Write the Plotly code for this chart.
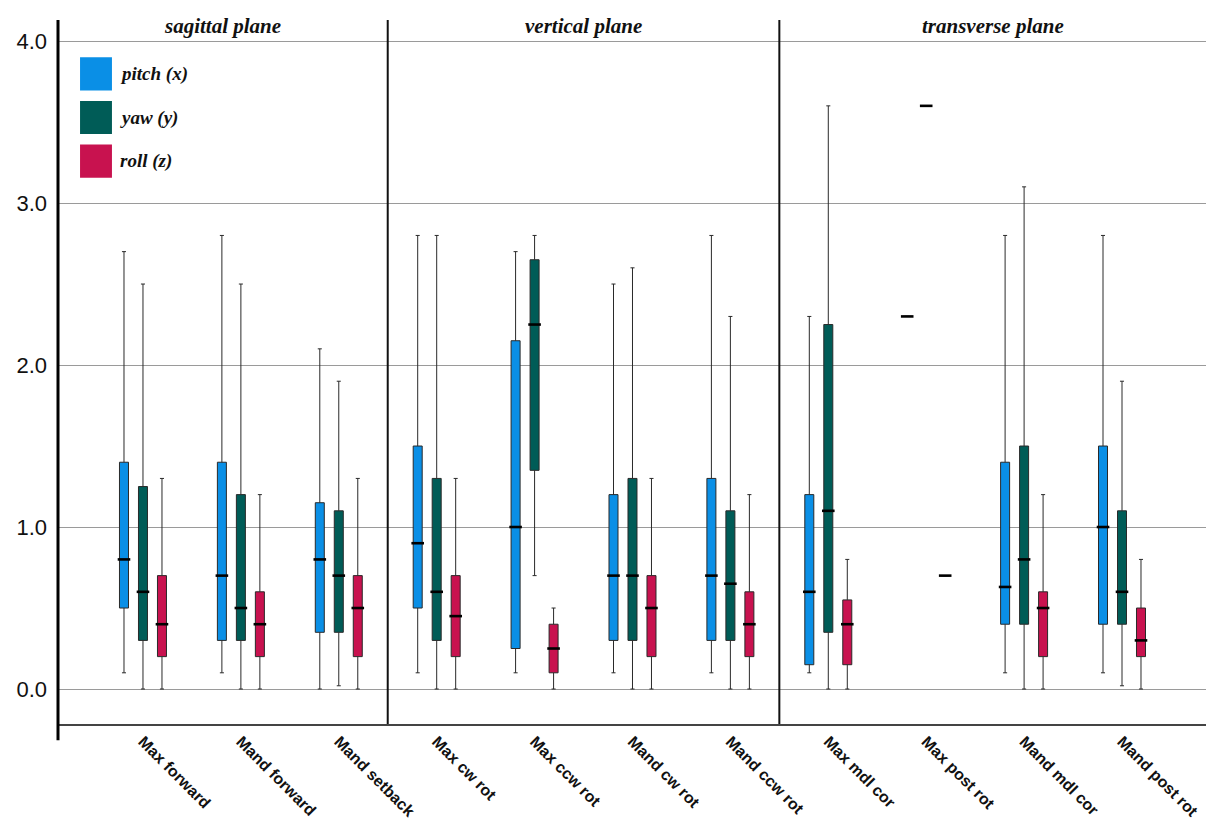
import plotly.graph_objects as go

# Categories (movement types) grouped into three anatomical planes
categories = ["Max forward", "Mand forward", "Mand setback",
              "Max cw rot", "Max ccw rot", "Mand cw rot", "Mand ccw rot",
              "Max mdl cor", "Max post rot", "Mand mdl cor", "Mand post rot"]
planes = ["sagittal plane", "vertical plane", "transverse plane"]
plane_spans = [(0, 2), (3, 6), (7, 10)]

# Box statistics per series: lower whisker, Q1, median, Q3, upper whisker
pitch_low = [0.10, 0.10, 0.00, 0.10, 0.10, 0.10, 0.10, 0.10, 2.30, 0.10, 0.10]
pitch_q1 = [0.50, 0.30, 0.35, 0.50, 0.25, 0.30, 0.30, 0.15, 2.30, 0.40, 0.40]
pitch_med = [0.80, 0.70, 0.80, 0.90, 1.00, 0.70, 0.70, 0.60, 2.30, 0.63, 1.00]
pitch_q3 = [1.40, 1.40, 1.15, 1.50, 2.15, 1.20, 1.30, 1.20, 2.30, 1.40, 1.50]
pitch_high = [2.70, 2.80, 2.10, 2.80, 2.70, 2.50, 2.80, 2.30, 2.30, 2.80, 2.80]

yaw_low = [0.00, 0.00, 0.02, 0.00, 0.70, 0.00, 0.00, 0.00, 3.60, 0.00, 0.02]
yaw_q1 = [0.30, 0.30, 0.35, 0.30, 1.35, 0.30, 0.30, 0.35, 3.60, 0.40, 0.40]
yaw_med = [0.60, 0.50, 0.70, 0.60, 2.25, 0.70, 0.65, 1.10, 3.60, 0.80, 0.60]
yaw_q3 = [1.25, 1.20, 1.10, 1.30, 2.65, 1.30, 1.10, 2.25, 3.60, 1.50, 1.10]
yaw_high = [2.50, 2.50, 1.90, 2.80, 2.80, 2.60, 2.30, 3.60, 3.60, 3.10, 1.90]

roll_low = [0.00, 0.00, 0.00, 0.00, 0.00, 0.00, 0.00, 0.00, 0.70, 0.00, 0.00]
roll_q1 = [0.20, 0.20, 0.20, 0.20, 0.10, 0.20, 0.20, 0.15, 0.70, 0.20, 0.20]
roll_med = [0.40, 0.40, 0.50, 0.45, 0.25, 0.50, 0.40, 0.40, 0.70, 0.50, 0.30]
roll_q3 = [0.70, 0.60, 0.70, 0.70, 0.40, 0.70, 0.60, 0.55, 0.70, 0.60, 0.50]
roll_high = [1.30, 1.20, 1.30, 1.30, 0.50, 1.30, 1.20, 0.80, 0.70, 1.20, 0.80]

series = [
    ("pitch (x)", "#0a8fe6", pitch_low, pitch_q1, pitch_med, pitch_q3, pitch_high),
    ("yaw (y)", "#005c57", yaw_low, yaw_q1, yaw_med, yaw_q3, yaw_high),
    ("roll (z)", "#c8124f", roll_low, roll_q1, roll_med, roll_q3, roll_high),
]

GROUP_STEP = 0.194   # spacing between boxes inside a category
BOX_WIDTH = 0.092
X_MIN, X_MAX = -0.868, 10.858
Y_MIN, Y_MAX = -0.216, 4.13

fig = go.Figure()
idx = list(range(len(categories)))

for k, (name, color, lo, q1, med, q3, hi) in enumerate(series):
    xs = [i + (k - 1) * GROUP_STEP for i in idx]
    fig.add_trace(go.Box(
        name=name, x=xs, q1=q1, median=med, q3=q3,
        lowerfence=lo, upperfence=hi,
        width=BOX_WIDTH, fillcolor=color,
        line=dict(color="#2a2a2a", width=1),
        whiskerwidth=0.45, showlegend=False, hoverinfo="skip",
    ))
    # heavier median bars
    fig.add_trace(go.Scatter(
        x=xs, y=med, mode="markers", showlegend=False, hoverinfo="skip",
        marker=dict(symbol="line-ew", size=9,
                    line=dict(color="#000000", width=2.6)),
    ))

# plane separators
for a, b in zip(plane_spans[:-1], plane_spans[1:]):
    sep = (a[1] + b[0]) / 2
    fig.add_shape(type="line", xref="x", yref="paper", x0=sep, x1=sep,
                  y0=0, y1=1, line=dict(color="#111111", width=2))

# plane titles, sitting above the top gridline
for title, (a, b) in zip(planes, plane_spans):
    lo_edge = a - 0.5 if a > 0 else X_MIN
    hi_edge = b + 0.5 if b < len(categories) - 1 else X_MAX
    fig.add_annotation(x=(lo_edge + hi_edge) / 2, xref="x", y=4.09, yref="y",
                       text="<b><i>%s</i></b>" % title, showarrow=False,
                       yanchor="middle",
                       font=dict(family="Liberation Serif", size=21, color="#111111"))

# legend as swatches with labels
sw_x0, sw_x1 = 0.0192, 0.0470
sw_tops = [0.947, 0.885, 0.823]
sw_h = 0.047
for (name, color, *_), top in zip(series, sw_tops):
    fig.add_shape(type="rect", xref="paper", yref="paper",
                  x0=sw_x0, x1=sw_x1, y0=top - sw_h, y1=top,
                  fillcolor=color, line=dict(width=0))
    fig.add_annotation(x=0.052, xref="paper", y=top - sw_h / 2, yref="paper",
                       text="<b><i>%s</i></b>" % name, showarrow=False,
                       xanchor="left", yanchor="middle",
                       font=dict(family="Liberation Serif", size=19, color="#111111"))

# left axis extension below the baseline
fig.add_shape(type="line", xref="paper", yref="paper", x0=0, x1=0,
              y0=-0.023, y1=1, line=dict(color="#000000", width=3))

fig.update_layout(
    width=1206, height=823,
    margin=dict(l=58, r=0, t=20, b=99),
    paper_bgcolor="white", plot_bgcolor="white",
    showlegend=False,
    xaxis=dict(range=[X_MIN, X_MAX], tickmode="array", tickvals=idx,
               ticktext=["<b>%s</b>" % c for c in categories],
               tickangle=45, showgrid=False, zeroline=False,
               showline=True, linecolor="#444444", linewidth=2,
               tickfont=dict(family="Liberation Sans", size=16, color="#111111")),
    yaxis=dict(range=[Y_MIN, Y_MAX], tickmode="array",
               tickvals=[0, 1, 2, 3, 4], ticktext=["0.0", "1.0", "2.0", "3.0", "4.0"],
               showgrid=True, gridcolor="#9a9a9a", gridwidth=1,
               zeroline=False, showline=False, ticks="",
               ticklabelstandoff=10,
               tickfont=dict(family="Liberation Sans", size=22, color="#111111")),
)

fig.write_html("out.html")
